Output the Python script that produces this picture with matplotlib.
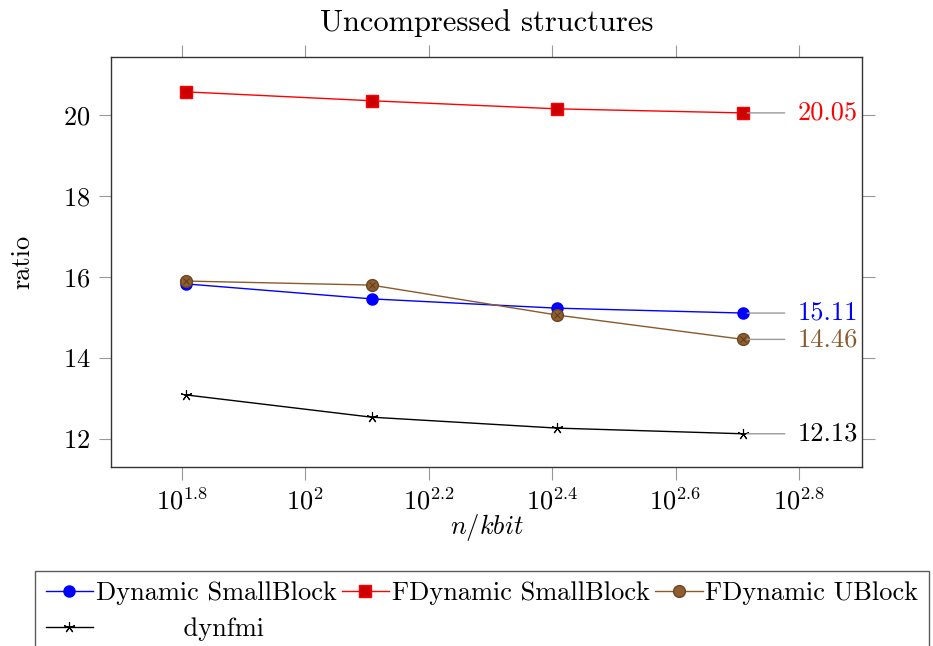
import numpy as np
import matplotlib
matplotlib.use("Agg")
import matplotlib.pyplot as plt
from matplotlib.ticker import FixedLocator, FixedFormatter, NullLocator

plt.rcParams['font.family'] = ['cmr10', 'DejaVu Serif']
plt.rcParams['mathtext.fontset'] = 'cm'
plt.rcParams['axes.formatter.use_mathtext'] = True
plt.rcParams['font.size'] = 19

n_kbit = [64, 128, 256, 512]
dyn_small = [15.83, 15.46, 15.23, 15.11]
fdyn_small = [20.57, 20.35, 20.15, 20.05]
fdyn_ublock = [15.90, 15.80, 15.06, 14.46]
dynfmi = [13.09, 12.54, 12.27, 12.13]

xtick_exp = [1.8, 2.0, 2.2, 2.4, 2.6, 2.8]
xtick_labels = [r'$10^{1.8}$', r'$10^{2}$', r'$10^{2.2}$', r'$10^{2.4}$', r'$10^{2.6}$', r'$10^{2.8}$']
yticks = [12, 14, 16, 18, 20]

brown = '#8a5a2c'

fig = plt.figure(figsize=(9.33, 6.46), dpi=100)
ax = fig.add_axes([111/933, 1 - 467/646, 751/933, 410/646])

ax.plot(n_kbit, dyn_small, color='blue', lw=1, marker='o', ms=8,
        mfc='blue', mec='blue', label='Dynamic SmallBlock')
ax.plot(n_kbit, fdyn_small, color='red', lw=1, marker='s', ms=8,
        mfc='#cc0000', mec='red', label='FDynamic SmallBlock')
ax.plot(n_kbit, fdyn_ublock, color=brown, lw=1, marker='o', ms=8.5,
        mfc='#8f5e30', mec='#6b4420', label='FDynamic UBlock')
ax.plot(n_kbit, fdyn_ublock, ls='none', marker='x', ms=5, mec='#5a3a1a', mew=0.7)
ax.plot(n_kbit, dynfmi, color='black', lw=1, marker=(5, 2, 0), ms=8, mew=0.8,
        label='dynfmi')

# end labels with gray connectors
for vals, col in [(fdyn_small, 'red'), (dyn_small, 'blue'),
                  (fdyn_ublock, brown), (dynfmi, 'black')]:
    ax.annotate(f'{vals[-1]:.2f}', xy=(n_kbit[-1], vals[-1]), xytext=(39, 0),
                textcoords='offset points', color=col, va='center', ha='left',
                fontsize=19,
                arrowprops=dict(arrowstyle='-', color='#999999', lw=1,
                                shrinkA=7, shrinkB=3))

ax.set_xscale('log')
ax.set_xlim(10**1.685, 10**2.902)
ax.set_ylim(11.31, 21.43)
ax.xaxis.set_major_locator(FixedLocator([10**e for e in xtick_exp]))
ax.xaxis.set_major_formatter(FixedFormatter(xtick_labels))
ax.xaxis.set_minor_locator(NullLocator())
ax.set_yticks(yticks)
ax.tick_params(direction='out', length=9, width=0.8, color='#999999',
               top=True, right=True, labelsize=19, pad=6)
for s in ax.spines.values():
    s.set_color('#333333')
    s.set_linewidth(1)

ax.set_title('Uncompressed structures', fontsize=22, pad=19)
ax.set_xlabel(r'$n/kbit$', fontsize=19, labelpad=-2)
ax.set_ylabel('ratio', fontsize=19, labelpad=20)

handles, labels = ax.get_legend_handles_labels()
labels[3] = '          dynfmi'
order = [0, 3, 1, 2]
leg = fig.legend([handles[i] for i in order], [labels[i] for i in order],
                 ncol=3, loc='upper left',
                 bbox_to_anchor=(35/933, 1 - 571/646), frameon=True,
                 fancybox=False, edgecolor='#333333', fontsize=19,
                 handlelength=1.8, handletextpad=0.1, columnspacing=0.2,
                 borderpad=0.4, labelspacing=0.45, borderaxespad=0)
leg.get_frame().set_linewidth(1)

fig.savefig('out.png', dpi=100)
